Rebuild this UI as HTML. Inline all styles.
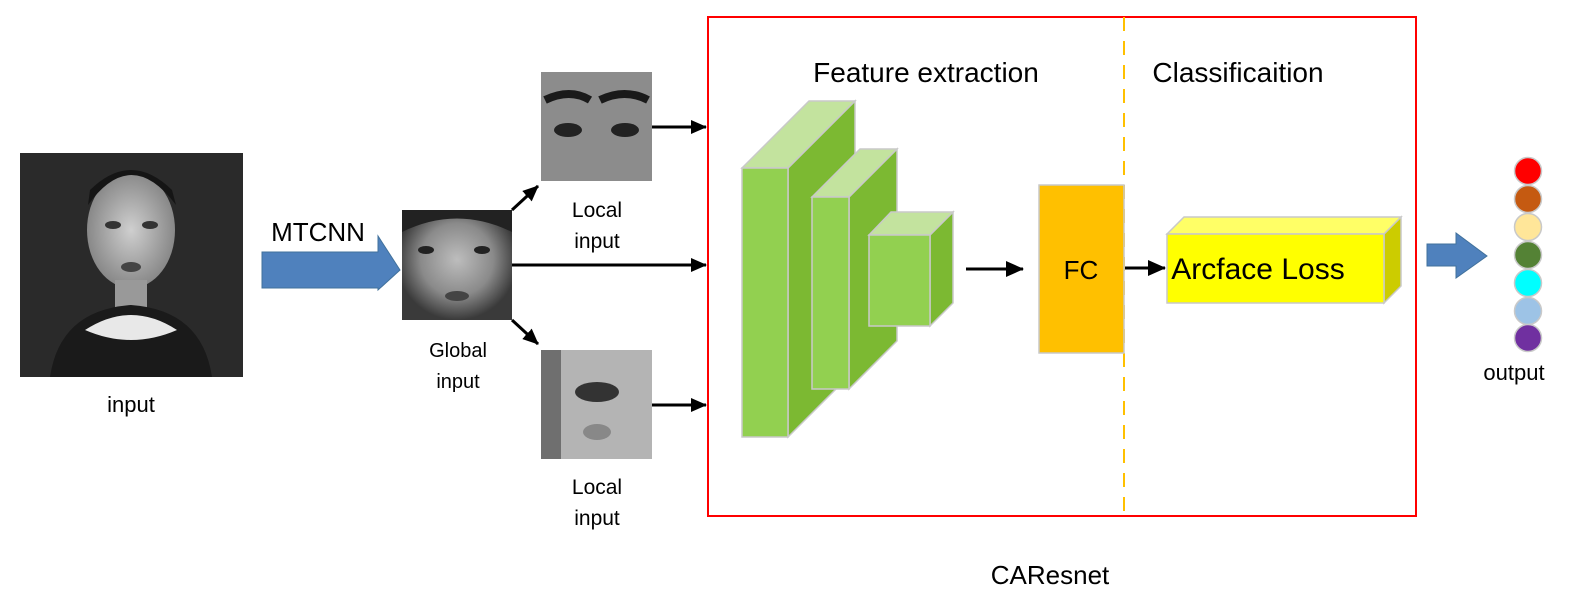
<!DOCTYPE html>
<html><head><meta charset="utf-8"><style>
html,body{margin:0;padding:0;background:#fff;}
svg{display:block;font-family:"Liberation Sans","DejaVu Sans",sans-serif;}
</style></head><body>
<svg width="1584" height="610" viewBox="0 0 1584 610" xmlns="http://www.w3.org/2000/svg">
<defs>
<marker id="ah" markerWidth="16" markerHeight="14" refX="15" refY="7" orient="auto" markerUnits="userSpaceOnUse"><path d="M0,0 L16,7 L0,14 z" fill="#000"/></marker>
<marker id="ah2" markerWidth="18" markerHeight="16" refX="17" refY="8" orient="auto" markerUnits="userSpaceOnUse"><path d="M0,0 L18,8 L0,16 z" fill="#000"/></marker>
<radialGradient id="face" cx="50%" cy="45%" r="55%"><stop offset="0" stop-color="#bdbdbd"/><stop offset="0.6" stop-color="#8a8a8a"/><stop offset="1" stop-color="#3a3a3a"/></radialGradient>
<radialGradient id="skin" cx="50%" cy="50%" r="60%"><stop offset="0" stop-color="#cfcfcf"/><stop offset="1" stop-color="#7a7a7a"/></radialGradient>
</defs>

<rect x="20" y="153" width="223" height="224" fill="#2a2a2a"/>
<ellipse cx="131" cy="230" rx="44" ry="58" fill="url(#skin)"/>
<path d="M88,205 Q131,145 176,205 L172,190 Q131,150 90,190 z" fill="#151515"/>
<rect x="115" y="280" width="32" height="30" fill="#999"/>
<path d="M50,377 Q60,310 131,305 Q202,310 212,377 z" fill="#1a1a1a"/>
<path d="M85,330 Q131,300 177,330 Q131,350 85,330z" fill="#e8e8e8"/>
<ellipse cx="113" cy="225" rx="8" ry="4" fill="#333"/><ellipse cx="150" cy="225" rx="8" ry="4" fill="#333"/>
<ellipse cx="131" cy="267" rx="10" ry="5" fill="#444"/>
<text x="131" y="412" font-size="22" text-anchor="middle">input</text>

<text x="318" y="241" font-size="26" text-anchor="middle">MTCNN</text>
<path d="M262,252 L378,252 L378,236 L400,270 L378,290 L378,288 L262,288 z" fill="#4f81bd" stroke="#41719c"/>

<rect x="402" y="210" width="110" height="110" fill="url(#face)"/>
<ellipse cx="426" cy="250" rx="8" ry="4" fill="#222"/><ellipse cx="482" cy="250" rx="8" ry="4" fill="#222"/>
<path d="M402,210 L512,210 L512,232 Q457,205 402,232z" fill="#222"/>
<ellipse cx="457" cy="296" rx="12" ry="5" fill="#444"/>
<text x="458" y="357" font-size="20" text-anchor="middle">Global</text>
<text x="458" y="388" font-size="20" text-anchor="middle">input</text>

<rect x="541" y="72" width="111" height="109" fill="#8c8c8c"/>
<path d="M545,100 Q570,88 590,100 M600,100 Q625,88 648,100" stroke="#1a1a1a" stroke-width="8" fill="none"/>
<ellipse cx="568" cy="130" rx="14" ry="7" fill="#222"/><ellipse cx="625" cy="130" rx="14" ry="7" fill="#222"/>
<text x="597" y="217" font-size="21" text-anchor="middle">Local</text>
<text x="597" y="248" font-size="21" text-anchor="middle">input</text>

<rect x="541" y="350" width="111" height="109" fill="#b4b4b4"/>
<rect x="541" y="350" width="20" height="109" fill="#6f6f6f"/>
<ellipse cx="597" cy="392" rx="22" ry="10" fill="#333"/>
<ellipse cx="597" cy="432" rx="14" ry="8" fill="#888"/>
<text x="597" y="494" font-size="21" text-anchor="middle">Local</text>
<text x="597" y="525" font-size="21" text-anchor="middle">input</text>

<g stroke="#000" stroke-width="3" fill="none">
<line x1="512" y1="210" x2="538" y2="186" marker-end="url(#ah)"/>
<line x1="512" y1="320" x2="538" y2="344" marker-end="url(#ah)"/>
<line x1="512" y1="265" x2="706" y2="265" marker-end="url(#ah)"/>
<line x1="652" y1="127" x2="706" y2="127" marker-end="url(#ah)"/>
<line x1="652" y1="405" x2="706" y2="405" marker-end="url(#ah)"/>
<line x1="966" y1="269" x2="1023" y2="269" marker-end="url(#ah2)"/>
<line x1="1124" y1="268" x2="1165" y2="268" marker-end="url(#ah2)"/>
</g>

<rect x="708" y="17" width="708" height="499" fill="none" stroke="#ff0000" stroke-width="2"/>
<line x1="1124" y1="17" x2="1124" y2="516" stroke="#ffc000" stroke-width="2" stroke-dasharray="14,10"/>
<text x="926" y="82" font-size="28" text-anchor="middle">Feature extraction</text>
<text x="1238" y="82" font-size="28" text-anchor="middle">Classificaition</text>
<text x="1050" y="584" font-size="26" text-anchor="middle">CAResnet</text>

<g stroke="#c9c9c9" stroke-width="1.5">
<polygon points="788,168 855,101 855,370 788,437" fill="#7cb932"/>
<polygon points="742,168 809,101 855,101 788,168" fill="#c3e39e"/>
<rect x="742" y="168" width="46" height="269" fill="#92d050"/>
<polygon points="849,197 897,149 897,341 849,389" fill="#7cb932"/>
<polygon points="812,197 860,149 897,149 849,197" fill="#c3e39e"/>
<rect x="812" y="197" width="37" height="192" fill="#92d050"/>
<polygon points="930,235 953,212 953,303 930,326" fill="#7cb932"/>
<polygon points="869,235 891,212 953,212 930,235" fill="#c3e39e"/>
<rect x="869" y="235" width="61" height="91" fill="#92d050"/>
<rect x="1039" y="185" width="85" height="168" fill="#ffc000"/>
</g>
<text x="1081" y="279" font-size="26" text-anchor="middle">FC</text>

<g stroke="#c9c9c9" stroke-width="1.5">
<polygon points="1384,234 1401,217 1401,286 1384,303" fill="#cccc00"/>
<polygon points="1167,234 1184,217 1401,217 1384,234" fill="#ffff66"/>
<rect x="1167" y="234" width="217" height="69" fill="#ffff00"/>
</g>
<text x="1258" y="279" font-size="30" text-anchor="middle">Arcface Loss</text>

<path d="M1427,244 L1456,244 L1456,233 L1487,256 L1456,278 L1456,266 L1427,266 z" fill="#4f81bd" stroke="#41719c"/>

<g stroke="#c9c9c9" stroke-width="1.5">
<circle cx="1528" cy="171" r="13.5" fill="#ff0000"/>
<circle cx="1528" cy="199" r="13.5" fill="#c55a11"/>
<circle cx="1528" cy="227" r="13.5" fill="#ffe699"/>
<circle cx="1528" cy="255" r="13.5" fill="#548235"/>
<circle cx="1528" cy="283" r="13.5" fill="#00ffff"/>
<circle cx="1528" cy="311" r="13.5" fill="#9dc3e6"/>
<circle cx="1528" cy="338" r="13.5" fill="#7030a0"/>
</g>
<text x="1514" y="380" font-size="22" text-anchor="middle">output</text>
</svg>
</body></html>
